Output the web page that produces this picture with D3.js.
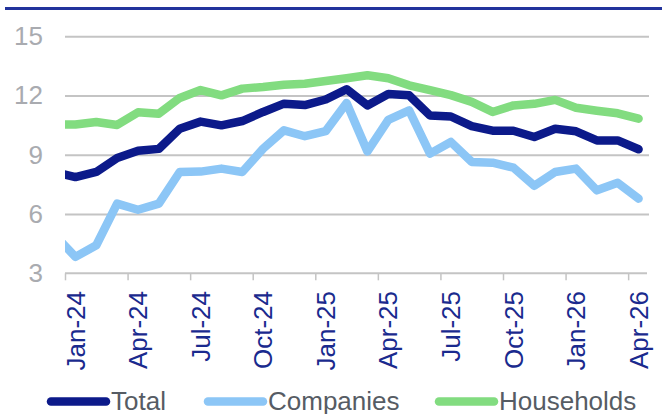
<!DOCTYPE html>
<html>
<head>
<meta charset="utf-8">
<script src="https://cdn.jsdelivr.net/npm/d3@7"></script>
<style>
  body { margin: 0; background: #fff; }
  svg { display: block; font-family: 'Liberation Sans', Arial, sans-serif; }
</style>
</head>
<body>
<svg></svg>
<script>
// months; Dec-23 sits just left of the plot and is clipped like in the original
const months = ['Dec-23', 'Jan-24', 'Feb-24', 'Mar-24', 'Apr-24', 'May-24', 'Jun-24', 'Jul-24', 'Aug-24', 'Sep-24',
  'Oct-24', 'Nov-24', 'Dec-24', 'Jan-25', 'Feb-25', 'Mar-25', 'Apr-25', 'May-25', 'Jun-25', 'Jul-25',
  'Aug-25', 'Sep-25', 'Oct-25', 'Nov-25', 'Dec-25', 'Jan-26', 'Feb-26', 'Mar-26', 'Apr-26'];
const total = [8.12, 7.87, 8.13, 8.84, 9.2, 9.3, 10.32, 10.68, 10.49, 10.71, 11.17, 11.59, 11.52, 11.8, 12.32,
  11.5, 12.08, 12.01, 10.99, 10.94, 10.45, 10.22, 10.22, 9.9, 10.32, 10.19, 9.73, 9.73, 9.28];
const companies = [4.95, 3.83, 4.42, 6.53, 6.22, 6.53, 8.13, 8.15, 8.3, 8.13, 9.31, 10.24, 9.94, 10.2, 11.62,
  9.17, 10.77, 11.25, 9.06, 9.65, 8.64, 8.6, 8.35, 7.43, 8.13, 8.3, 7.2, 7.58, 6.78];
const households = [10.53, 10.53, 10.66, 10.51, 11.15, 11.08, 11.88, 12.28, 12.01, 12.35, 12.43, 12.55, 12.6,
  12.74, 12.88, 13.03, 12.88, 12.52, 12.28, 12.02, 11.68, 11.17, 11.5, 11.58, 11.78, 11.38, 11.23, 11.1, 10.83];
const labelMonths = ['Jan-24', 'Apr-24', 'Jul-24', 'Oct-24', 'Jan-25', 'Apr-25', 'Jul-25', 'Oct-25', 'Jan-26', 'Apr-26'];
const yTicks = [3, 6, 9, 12, 15];

const width = 662;
const height = 414;
const svg = d3.select('svg')
  .attr('width', width)
  .attr('height', height);

const series = [
  { name: 'Total', values: total, color: '#0c1a8a' },
  { name: 'Companies', values: companies, color: '#8cc6f6' },
  { name: 'Households', values: households, color: '#82dc80' }
];

const left = 65;
const right = 649;
const x = d3.scaleLinear().domain([0.5, months.length - 0.5]).range([left, right]);
const y = d3.scaleLinear().domain([3, 15]).range([273.3, 36.3]);

// top rule
svg.append('rect')
  .attr('x', 5).attr('y', 7)
  .attr('width', width - 5).attr('height', 3)
  .attr('fill', '#22339c');

// gridlines + y labels
const yAxis = svg.append('g')
  .attr('transform', `translate(${left},0)`)
  .call(d3.axisLeft(y).tickValues(yTicks).tickSize(-(right - left)).tickPadding(22));
yAxis.select('.domain').remove();
yAxis.selectAll('line')
  .attr('stroke', d => d === 3 ? 'none' : '#c4c4c4')
  .attr('stroke-width', 2);
yAxis.selectAll('text')
  .attr('fill', '#a9abb0')
  .style('font-size', '26px');

// x axis: ticks sit between categories every 3 months
const tickPos = d3.range(0.5, months.length - 1, 3);
const xAxis = svg.append('g')
  .attr('transform', `translate(0,${y(3)})`)
  .call(d3.axisBottom(x).tickValues(tickPos).tickSize(7).tickFormat(''));
xAxis.select('.domain')
  .attr('d', `M${left},0H${right - 2}`)
  .attr('stroke', '#c4c4c4')
  .attr('stroke-width', 2);
xAxis.selectAll('line')
  .attr('stroke', '#c4c4c4')
  .attr('stroke-width', 1.5);

svg.append('g')
  .selectAll('text')
  .data(labelMonths)
  .enter()
  .append('text')
  .attr('transform', d => `translate(${x(months.indexOf(d))},291) rotate(-90)`)
  .attr('text-anchor', 'end')
  .attr('dy', '0.35em')
  .attr('fill', '#1a2a8e')
  .style('font-size', '26px')
  .text(d => d);

// lines
svg.append('clipPath')
  .attr('id', 'plot')
  .append('rect')
  .attr('x', left).attr('y', 0)
  .attr('width', right - left).attr('height', height);

const line = d3.line()
  .x((d, i) => x(i))
  .y(d => y(d));

svg.append('g')
  .attr('clip-path', 'url(#plot)')
  .selectAll('path')
  .data(series)
  .enter()
  .append('path')
  .attr('d', d => line(d.values))
  .attr('fill', 'none')
  .attr('stroke', d => d.color)
  .attr('stroke-width', 8.5)
  .attr('stroke-linejoin', 'round')
  .attr('stroke-linecap', 'round');

// legend
const legendX = [51, 208, 439];
const legend = svg.append('g')
  .selectAll('g')
  .data(series)
  .enter()
  .append('g')
  .attr('transform', (d, i) => `translate(${legendX[i]},401.5)`);
legend.append('line')
  .attr('x1', 0).attr('x2', 55)
  .attr('stroke', d => d.color)
  .attr('stroke-width', 8.5)
  .attr('stroke-linecap', 'round');
legend.append('text')
  .attr('x', 60)
  .attr('y', 8)
  .attr('fill', '#565c64')
  .style('font-size', '26px')
  .text(d => d.name);
</script>
</body>
</html>
